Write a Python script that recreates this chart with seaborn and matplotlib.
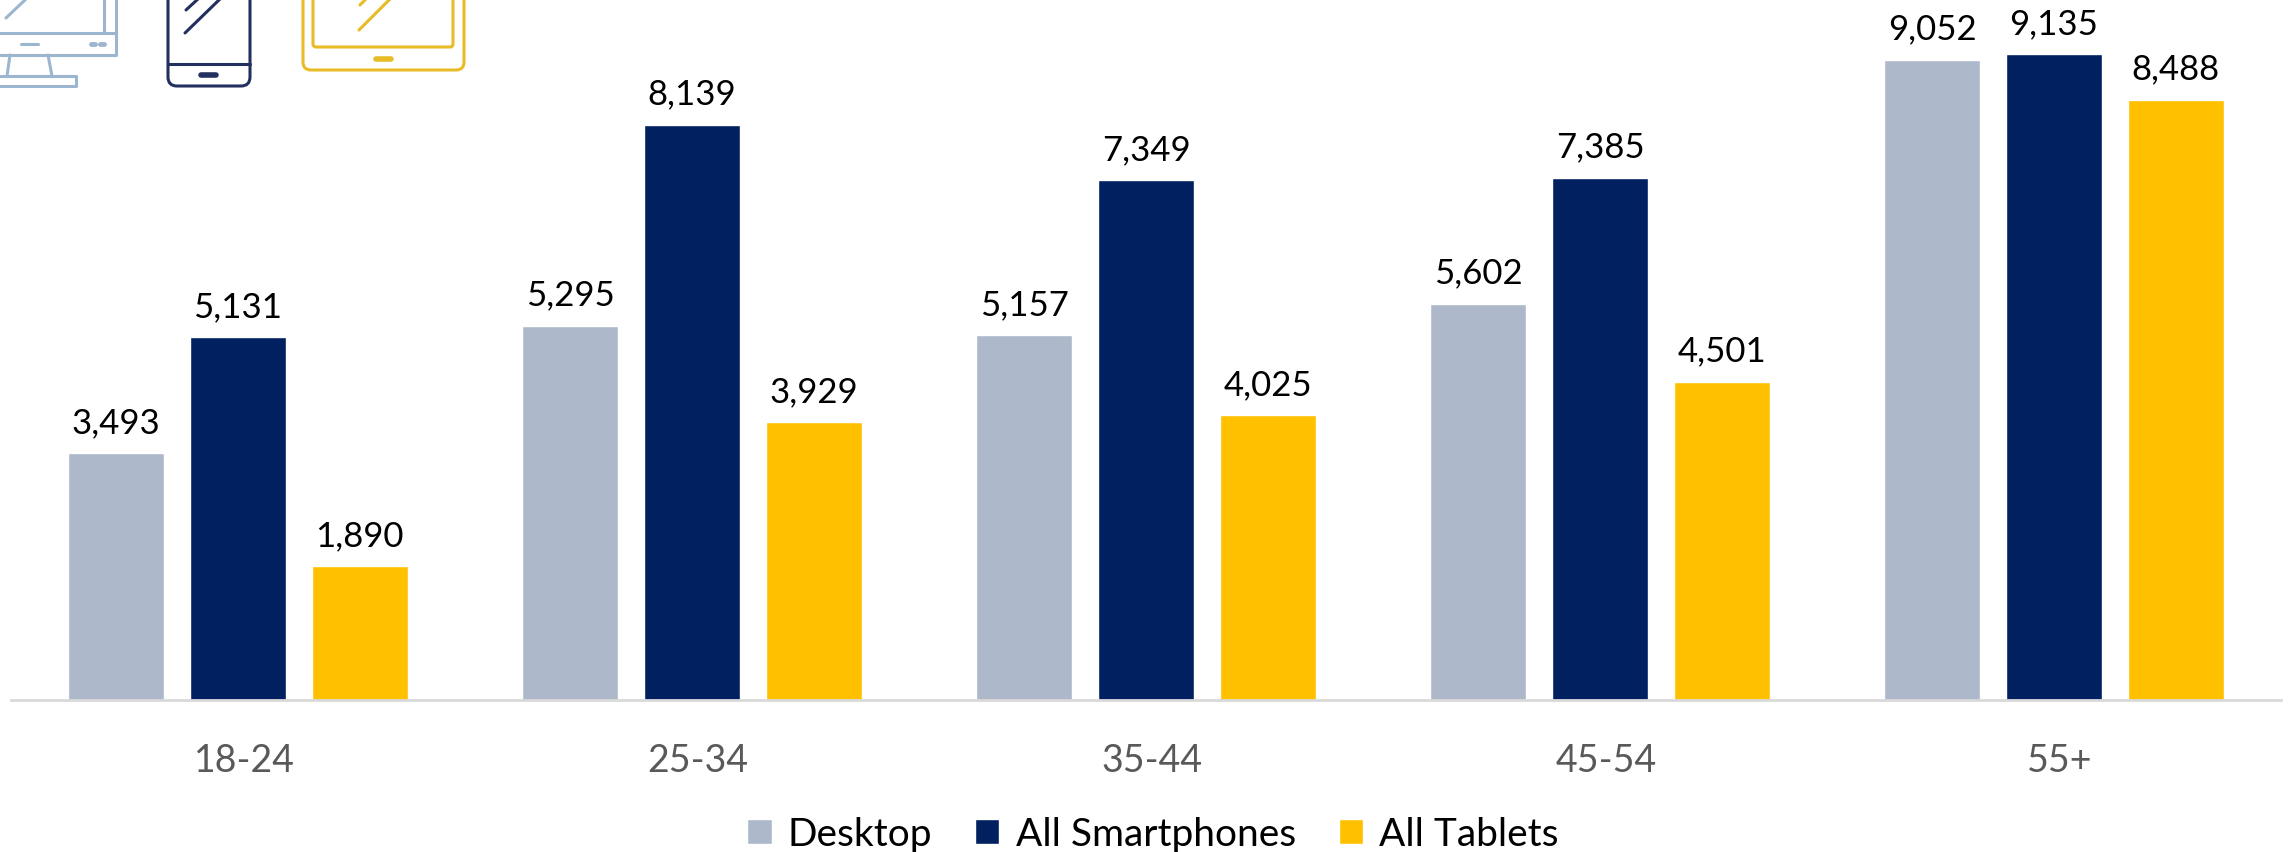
import pandas as pd
import matplotlib
matplotlib.use('Agg')
import matplotlib.pyplot as plt
from matplotlib.patches import FancyBboxPatch
from matplotlib.transforms import ScaledTranslation
import seaborn as sns

# Values
age_groups = ['18-24', '25-34', '35-44', '45-54', '55+']
desktop = [3493, 5295, 5157, 5602, 9052]
smartphones = [5131, 8139, 7349, 7385, 9135]
tablets = [1890, 3929, 4025, 4501, 8488]
device_names = ['Desktop', 'All Smartphones', 'All Tablets']
device_colors = ['#ADB9CA', '#002060', '#FFC000']

df = pd.DataFrame({'Age': age_groups, 'Desktop': desktop,
                   'All Smartphones': smartphones, 'All Tablets': tablets})
df = df.melt(id_vars='Age', var_name='Device', value_name='Visits')

sns.set_theme(style='white')
plt.rcParams['font.family'] = ['Lato', 'DejaVu Sans']

W, H = 2290, 853
fig = plt.figure(figsize=(W / 100, H / 100), dpi=100)
ax = fig.add_axes([11 / W, 1 - 701 / H, 2270 / W, 701 / H])

sns.barplot(data=df, x='Age', y='Visits', hue='Device', hue_order=device_names,
            palette=device_colors, width=0.804, gap=0.21, saturation=1, ax=ax)

ax.set_xlim(-0.5, 4.5)
ax.set_ylim(0, 9915)
ax.set_xlabel('')
ax.set_ylabel('')
ax.set_yticks([])
for side in ['top', 'left', 'right']:
    ax.spines[side].set_visible(False)
ax.spines['bottom'].set_color('#D9D9D9')
ax.spines['bottom'].set_linewidth(2)
ax.tick_params(axis='x', length=0, pad=30, labelsize=27, labelcolor='#595959')

# tick labels sit a little right of the bar groups in the original
shift = ScaledTranslation(6 / 100, 0, fig.dpi_scale_trans)
for label in ax.get_xticklabels():
    label.set_transform(label.get_transform() + shift)

for container in ax.containers:
    ax.bar_label(container, fmt='{:,.0f}', padding=11, fontsize=25, color='black')

handles, labels = ax.get_legend_handles_labels()
ax.legend(handles, labels, loc='center', bbox_to_anchor=(1153 / W, 1 - 835 / H),
          bbox_transform=fig.transFigure, ncol=3, frameon=False, fontsize=28,
          labelcolor='black', handlelength=0.62, handleheight=0.62,
          handletextpad=0.42, columnspacing=1.1, borderpad=0, borderaxespad=0)

# Device icons at the top left, cut off by the edge of the picture
icons = fig.add_axes([0, 0, 1, 1], zorder=5)
icons.set_xlim(0, W)
icons.set_ylim(H, 0)
icons.axis('off')
icons.patch.set_alpha(0)


def stroke(points, color, lw=2.2):
    xs, ys = zip(*points)
    icons.plot(xs, ys, color=color, lw=lw, solid_capstyle='round', solid_joinstyle='round')


def rounded(x0, y0, x1, y1, color, r=8, lw=2.2):
    icons.add_patch(FancyBboxPatch((x0, y0), x1 - x0, y1 - y0,
                                   boxstyle=f'round,pad=0,rounding_size={r}',
                                   fill=False, ec=color, lw=lw))


blue = '#9DB6CF'
stroke([(0, 56), (116, 56), (116, -5)], blue)
stroke([(0, 34), (116, 34)], blue)
stroke([(104, 34), (104, -5)], blue)
stroke([(6, 19), (26, 0)], blue)
stroke([(21, 45), (38, 45)], blue)
stroke([(91, 45), (95, 45)], blue, lw=3.5)
stroke([(100, 45), (104, 45)], blue, lw=3.5)
stroke([(10, 56), (7, 77)], blue)
stroke([(48, 56), (52, 77)], blue)
stroke([(0, 77), (76, 77), (76, 87), (0, 87)], blue)

navy = '#232F5E'
rounded(168, -30, 250, 87, navy, r=9)
stroke([(168, 65), (250, 65)], navy)
stroke([(201, 76), (216, 76)], navy, lw=4)
stroke([(186, 11), (198, 0)], navy)
stroke([(185, 34), (220, 0)], navy)

gold = '#E8BC26'
rounded(303, -30, 464, 71, gold, r=8)
rounded(313, -30, 453, 48, gold, r=3)
stroke([(376, 60), (391, 60)], gold, lw=4)
stroke([(360, 6), (366, 0)], gold)
stroke([(359, 31), (390, 0)], gold)

fig.savefig('out.png', dpi=100)
